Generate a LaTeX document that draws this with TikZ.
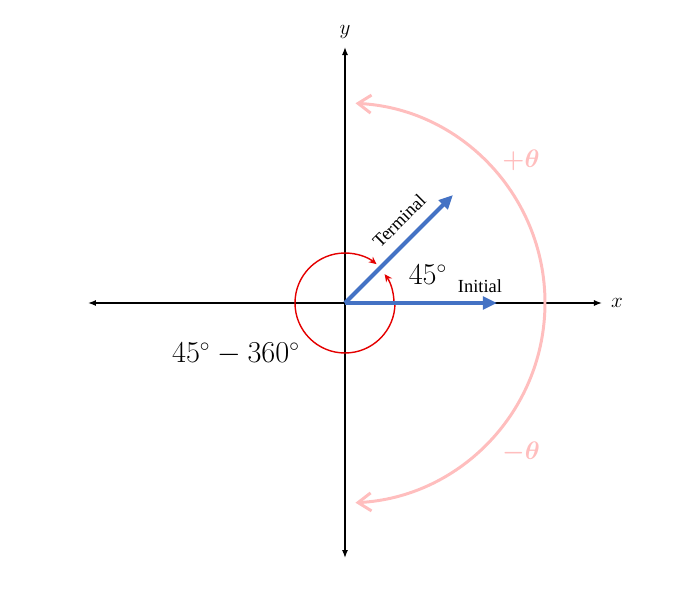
\documentclass[tikz,border=0pt]{standalone}
\usepackage{fontspec}
\setmainfont{Liberation Serif}
\usetikzlibrary{arrows.meta,positioning,calc}

\definecolor{vecblue}{RGB}{68,114,196}
\definecolor{swingpink}{RGB}{255,190,190}
\definecolor{turnred}{RGB}{228,0,0}

\begin{document}
\begin{tikzpicture}[
    axis/.style={{Latex[length=1.6mm,width=1.2mm]}-{Latex[length=1.6mm,width=1.2mm]}, line width=0.75pt, black},
    vec/.style={-{Triangle[length=2.8mm,width=2.5mm]}, line width=2.3pt, vecblue},
    swing/.style={{Straight Barb[length=2.6mm,width=3.6mm]}-{Straight Barb[length=2.6mm,width=3.6mm]}, line width=1.7pt, swingpink},
    turn/.style={-{Stealth[length=1.5mm,width=1.4mm]}, line width=0.8pt, turnred},
    small/.style={font={\fontsize{10.5}{12}\selectfont}},
    big/.style={font={\fontsize{16}{19}\selectfont}},
    sign/.style={font={\fontsize{13.5}{16}\selectfont\boldmath}, text=swingpink}
]
\useasboundingbox (-6.9,-5.82) rectangle (6.86,6.06);

% Points
\coordinate (O) at (0,0);
\coordinate (xl) at (-5.14,0);
\coordinate (xr) at (5.14,0);
\coordinate (yt) at (0,5.12);
\coordinate (yb) at (0,-5.1);
\coordinate (init) at (3.04,0);
\coordinate (term) at (2.16,2.16);

% Axes
\draw[axis] (xl) -- (xr);
\draw[axis] (yb) -- (yt);
\node[font=\large] (xlab) at (5.44,0) {$x$};
\node[font=\large] (ylab) at (0,5.42) {$y$};

% Direction of rotation
\draw[swing] (87:4) arc (87:-87:4);
\node[sign] (plus) at (3.52,2.86) {$+\theta$};
\node[sign] (minus) at (3.52,-2.98) {$-\theta$};

% Red turns
\draw[turn] (0:1) arc (0:-309:1);
\draw[turn] (0:0.98) arc (0:36:0.98);

% Sides of the angle
\draw[vec] (O) -- (init);
\draw[vec] (O) -- (term);
\node[small] (initlab) at (2.7,0.34) {Initial};
\node[small, rotate=45] (termlab) at (1.08,1.64) {Terminal};

% Angles
\node[big] (pang) at (1.66,0.56) {$45^\circ$};
\node[big] (nang) at (-2.18,-1.02) {$45^\circ-360^\circ$};

\end{tikzpicture}
\end{document}
